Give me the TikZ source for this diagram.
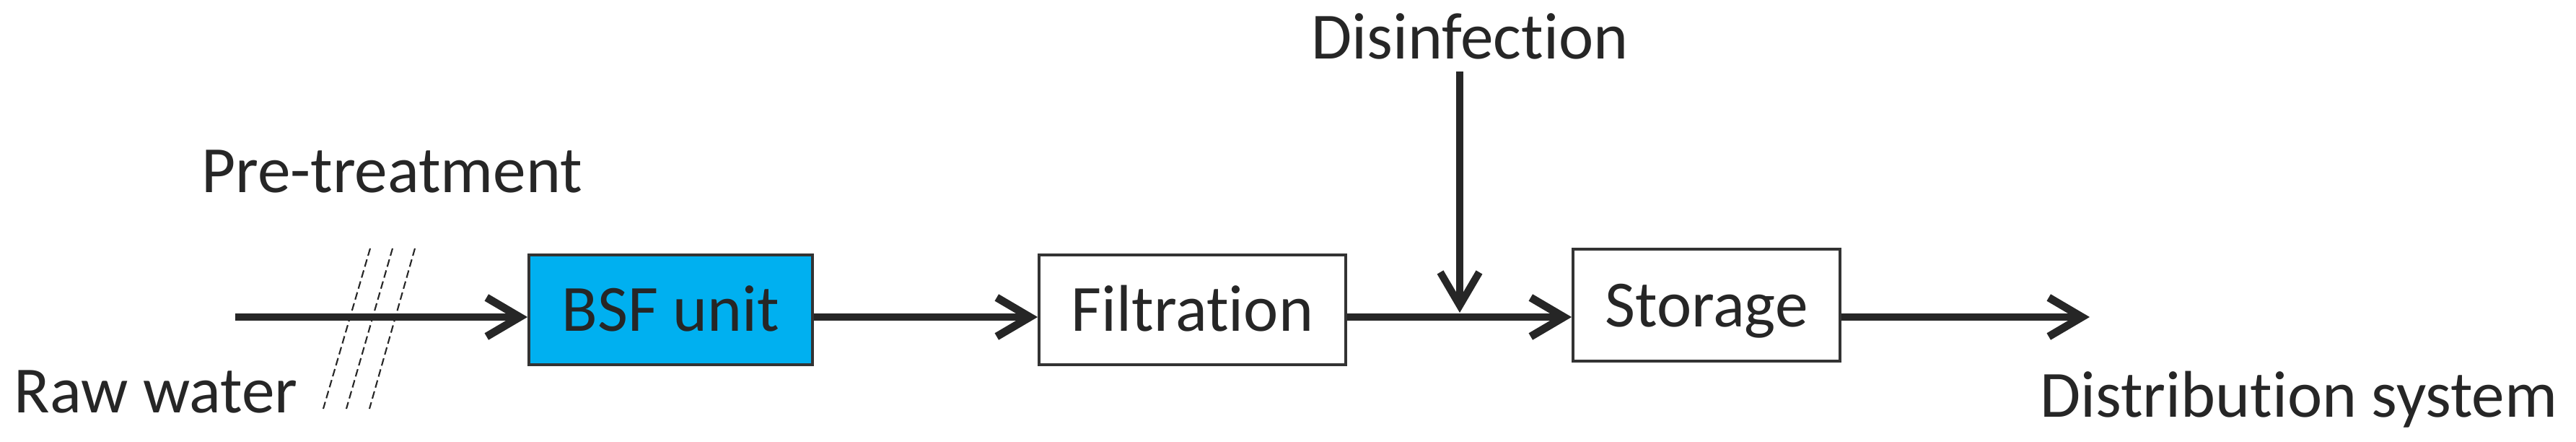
\documentclass[tikz,border=0pt]{standalone}
\usepackage{fontspec}
\setmainfont{Carlito}[Ligatures=NoCommon]
\usepackage{tikz}
\usetikzlibrary{arrows.meta,positioning,calc}
\definecolor{ink}{HTML}{262626}
\definecolor{edge}{HTML}{333333}
\definecolor{bsfblue}{HTML}{00B0F0}

\begin{document}
\begin{tikzpicture}[
  font=\fontsize{26}{30}\selectfont,
  box/.style={draw=edge,fill=#1,line width=1.1pt,minimum height=1.52cm,inner sep=0pt,text height=0.6cm,text depth=0pt,text=ink},
  box/.default=white,
  arr/.style={-{Straight Barb[length=4.6mm,width=5.4mm]},line width=3.1pt,color=ink},
  lbl/.style={inner sep=0pt,anchor=base,text=ink},
  hatch/.style={draw=ink,line width=0.6pt,dash pattern=on 3pt off 1.5pt}]
\useasboundingbox (0,0) rectangle (35.7,6.12);
% main line level
\coordinate (in) at (3.26,1.73);
\coordinate (out) at (28.96,1.73);
\coordinate (join) at (20.23,1.73);
% process units
\node[box=bsfblue,minimum width=3.93cm] (bsf) at (9.295,1.83) {BSF unit};
\node[box,minimum width=4.25cm] (filt) at (16.525,1.83) {Filtration};
\node[box,minimum width=3.70cm,minimum height=1.55cm] (stor) at (23.65,1.895) {Storage};
% labels
\node[lbl] (raw) at (2.16,0.40) {Raw water};
\node[lbl] (pre) at (5.43,3.45) {Pre-treatment};
\node[lbl] (dis) at (20.37,5.30) {Disinfection};
\node[lbl] (dist) at (31.86,0.34) {Distribution system};
% flow
\draw[arr] (in) -- (in -| bsf.west);
\draw[arr] (in -| bsf.east) -- (in -| filt.west);
\draw[arr] (in -| filt.east) -- (in -| stor.west);
\draw[arr] (in -| stor.east) -- (out);
\draw[arr,line width=2.9pt] ([yshift=-1.6mm]join |- dis.south) -- ([yshift=0.6mm]join);
% pre-treatment marks
\foreach \i in {0,1,2} \draw[hatch] (5.13+0.31*\i,2.68) -- (4.48+0.32*\i,0.46);
\end{tikzpicture}
\end{document}
